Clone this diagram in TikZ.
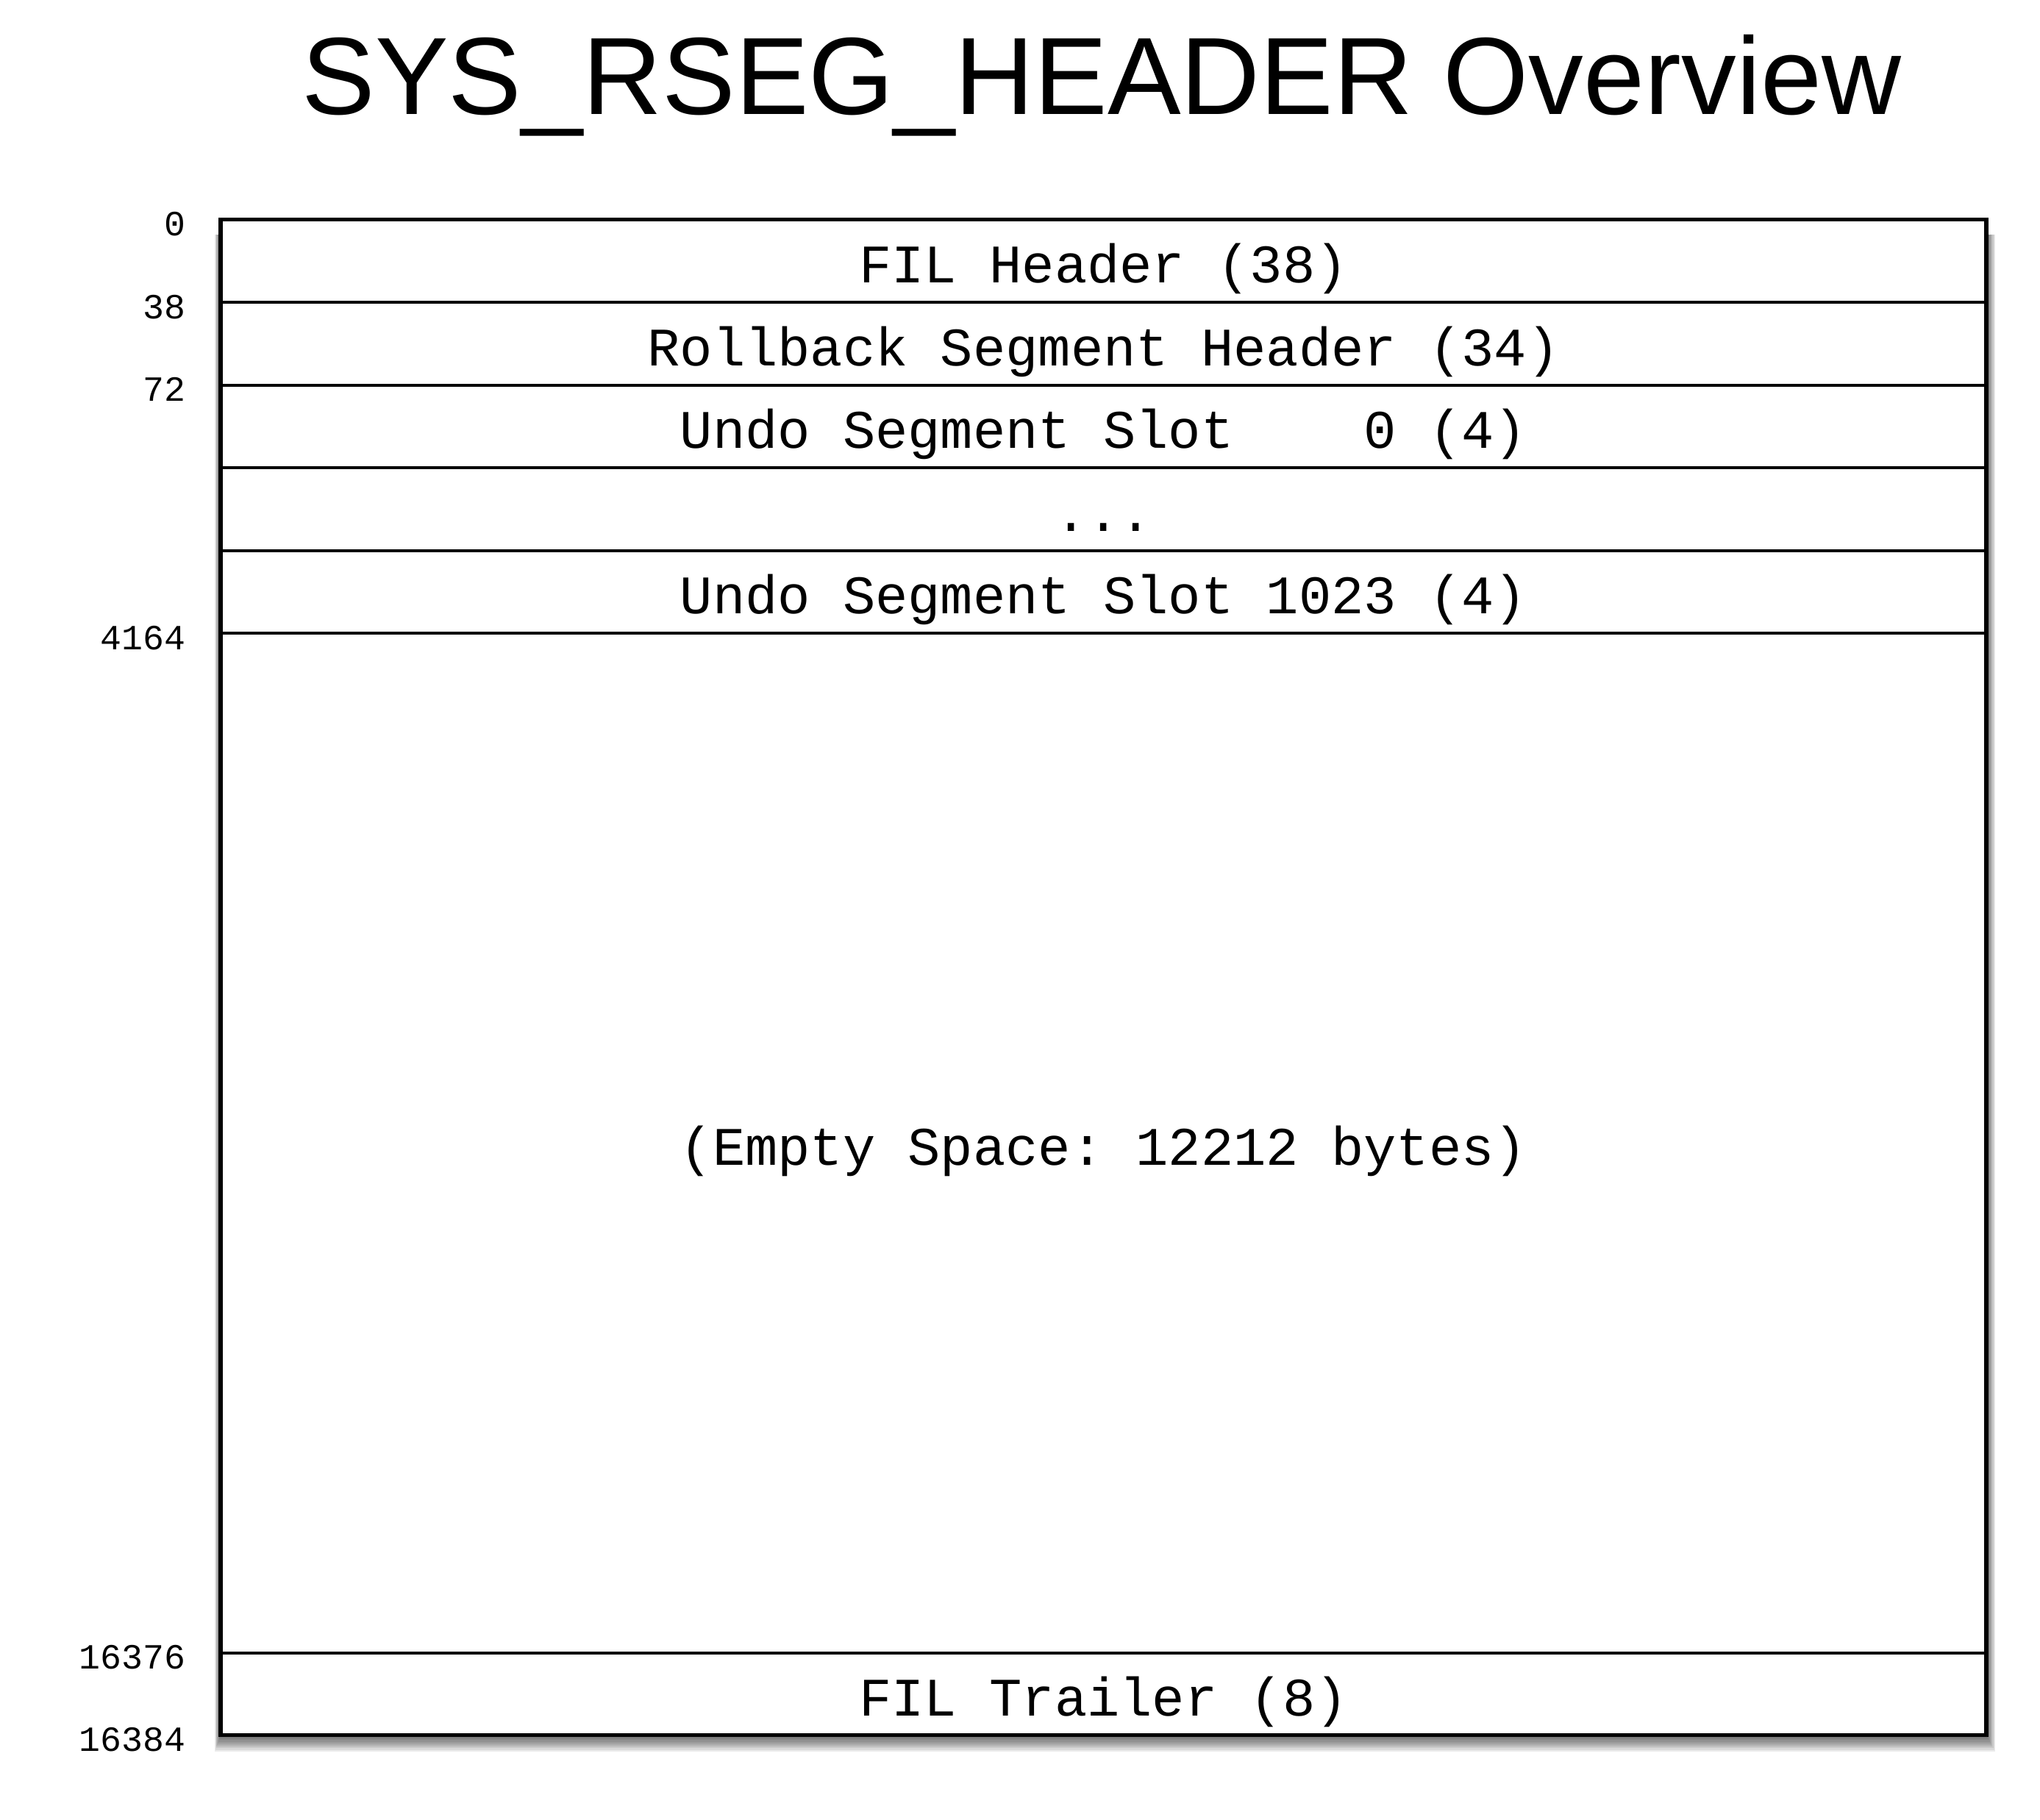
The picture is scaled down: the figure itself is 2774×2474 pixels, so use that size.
\documentclass[tikz,border=0pt]{standalone}
\usepackage{fontspec}
\setmainfont{Liberation Sans}
\setmonofont{Liberation Mono}
\usetikzlibrary{positioning,calc,backgrounds}

\begin{document}
\begin{tikzpicture}[
  x=0.1mm,y=0.1mm,
  field/.style={draw=black,fill=white,line width=1.1pt,outer sep=0pt,inner sep=0pt,minimum width=240.1mm,minimum height=11.25mm,text height=21pt,text depth=4pt,font=\fontsize{21}{25}\selectfont\ttfamily},
  offset/.style={inner sep=0pt,anchor=east,font=\fontsize{13.7}{16}\selectfont\ttfamily},
  frame/.style={draw=black,line width=1.5pt}
]
  \useasboundingbox (0,0) rectangle (2774,2474);
  \node[anchor=base,inner sep=0pt,font=\fontsize{42.5}{50}\selectfont] (title) at (1498,2318) {SYS\_RSEG\_HEADER Overview};
  % page fields, top to bottom
  \node[field] (filhdr) at (1500.5,2119) {FIL Header (38)};
  \node[field,below=0pt of filhdr] (rseghdr) {Rollback Segment Header (34)};
  \node[field,below=0pt of rseghdr] (slotfirst) {Undo Segment Slot \phantom{102}0 (4)};
  \node[field,below=0pt of slotfirst] (slotdots) {...};
  \node[field,below=0pt of slotdots] (slotlast) {Undo Segment Slot 1023 (4)};
  \node[field,minimum height=138.65mm,below=0pt of slotlast] (empty) {(Empty Space: 12212 bytes)};
  \node[field,minimum height=11.2mm,below=0pt of empty] (filtrl) {FIL Trailer (8)};
  \draw[frame] (filhdr.north west) rectangle (filtrl.south east);
  % byte offsets
  \node[offset] (off0) at ($(filhdr.north west)+(-47,-6)$) {0};
  \node[offset] (off38) at ($(rseghdr.north west)+(-47,-6)$) {38};
  \node[offset] (off72) at ($(slotfirst.north west)+(-47,-6)$) {72};
  \node[offset] (off4164) at ($(empty.north west)+(-47,-6)$) {4164};
  \node[offset] (off16376) at ($(filtrl.north west)+(-47,-6)$) {16376};
  \node[offset] (off16384) at ($(filtrl.south west)+(-47,-6)$) {16384};
  \begin{scope}[on background layer]
    \foreach \b in {2,4,...,20}
      \fill[black,opacity=0.08] ($(filhdr.north west)+(-0.4*\b,-20)$) rectangle ($(filtrl.south east)+(0.6*\b,-1.1*\b)$);
  \end{scope}
\end{tikzpicture}
\end{document}
